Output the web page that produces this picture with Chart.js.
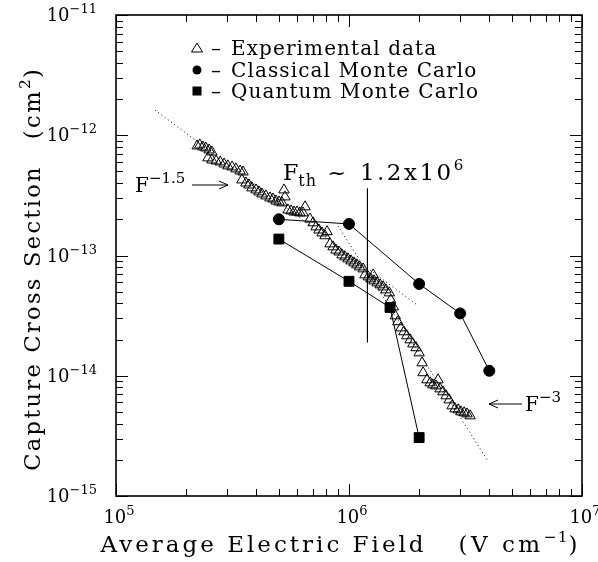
<!DOCTYPE html>
<html>
<head>
<meta charset="utf-8">
<script src="https://cdn.jsdelivr.net/npm/chart.js@4/dist/chart.umd.min.js"></script>
<style>
  html, body { margin: 0; padding: 0; background: #fff; }
  #plot { display: block; }
</style>
</head>
<body>
<canvas id="plot" width="598" height="562"></canvas>
<script>
// Axis decades and their exponent labels
const fieldTicks = [1e5, 1e6, 1e7];
const fieldTickExp = ['5', '6', '7'];
const sigmaTicks = [1e-15, 1e-14, 1e-13, 1e-12, 1e-11];
const sigmaTickExp = ['\u221215', '\u221214', '\u221213', '\u221212', '\u221211'];

// Measured capture cross sections (V/cm, cm^2)
const expField = [
  2.23e5, 2.29e5, 2.36e5, 2.43e5, 2.51e5, 2.58e5, 2.48e5, 2.58e5, 2.69e5, 2.80e5,
  2.91e5, 3.02e5, 3.15e5, 3.27e5, 3.41e5, 3.51e5, 3.47e5, 3.61e5, 3.72e5, 3.83e5,
  3.99e5, 4.11e5, 4.23e5, 4.40e5, 4.58e5, 4.72e5, 4.86e5, 5.01e5, 5.16e5, 5.26e5,
  5.31e5, 5.47e5, 5.64e5, 5.81e5, 5.98e5, 6.16e5, 6.35e5, 6.48e5, 6.80e5, 7.01e5,
  7.22e5, 7.43e5, 7.66e5, 7.89e5, 8.05e5, 8.29e5, 8.54e5, 8.79e5, 9.06e5, 9.33e5,
  9.61e5, 9.90e5, 1.02e6, 1.05e6, 1.08e6, 1.11e6, 1.15e6, 1.17e6, 1.21e6, 1.24e6,
  1.27e6, 1.28e6, 1.32e6, 1.36e6, 1.40e6, 1.44e6, 1.49e6, 1.51e6, 1.55e6, 1.58e6,
  1.62e6, 1.67e6, 1.72e6, 1.77e6, 1.83e6, 1.88e6, 1.94e6, 2.00e6, 2.06e6, 2.08e6,
  2.16e6, 2.23e6, 2.29e6, 2.36e6, 2.41e6, 2.46e6, 2.53e6, 2.61e6, 2.69e6, 2.77e6,
  2.85e6, 2.94e6, 3.02e6, 3.12e6, 3.21e6, 3.31e6
];
const expSigma = [
  8.15e-13, 8.31e-13, 7.99e-13, 7.84e-13, 7.55e-13, 7.26e-13, 6.48e-13, 6.23e-13, 6.11e-13, 6.00e-13,
  5.77e-13, 5.56e-13, 5.45e-13, 5.25e-13, 5.05e-13, 4.95e-13, 4.25e-13, 4.01e-13, 3.86e-13, 3.65e-13,
  3.51e-13, 3.38e-13, 3.25e-13, 3.13e-13, 3.01e-13, 2.95e-13, 2.84e-13, 2.79e-13, 2.74e-13, 3.51e-13,
  3.07e-13, 2.39e-13, 2.35e-13, 2.30e-13, 2.30e-13, 2.26e-13, 2.26e-13, 2.54e-13, 2.01e-13, 1.87e-13,
  1.73e-13, 1.63e-13, 1.54e-13, 1.46e-13, 1.58e-13, 1.25e-13, 1.18e-13, 1.11e-13, 1.07e-13, 1.01e-13,
  9.74e-14, 9.37e-14, 9.02e-14, 8.68e-14, 8.36e-14, 8.04e-14, 7.74e-14, 6.90e-14, 6.64e-14, 6.39e-14,
  6.90e-14, 6.15e-14, 5.92e-14, 5.70e-14, 5.48e-14, 5.18e-14, 4.89e-14, 4.27e-14, 3.74e-14, 3.15e-14,
  2.81e-14, 2.50e-14, 2.32e-14, 2.15e-14, 1.99e-14, 1.84e-14, 1.71e-14, 1.55e-14, 1.28e-14, 1.06e-14,
  9.25e-15, 8.73e-15, 8.40e-15, 8.24e-15, 9.25e-15, 7.78e-15, 7.35e-15, 6.81e-15, 6.30e-15, 5.62e-15,
  5.31e-15, 5.21e-15, 5.01e-15, 4.92e-15, 4.82e-15, 4.64e-15
];

// Monte Carlo results
const classicalField = [5e5, 1e6, 2e6, 3e6, 4e6];
const classicalSigma = [2.0e-13, 1.83e-13, 5.8e-14, 3.3e-14, 1.1e-14];
const quantumField = [5e5, 1e6, 1.5e6, 2e6];
const quantumSigma = [1.37e-13, 6.1e-14, 3.7e-14, 3.06e-15];

// Power-law guide lines (F^-1.5 below threshold, F^-3 above)
const lowFitField = [1.47e5, 1.96e6];
const lowFitSigma = [1.62e-12, 3.88e-14];
const highFitField = [8.97e5, 3.96e6];
const highFitSigma = [1.76e-13, 1.94e-15];

// Threshold field marker
const thresholdField = [1.2e6, 1.2e6];
const thresholdSigma = [3.6e-13, 1.9e-14];

const legendText = ['Experimental data', 'Classical Monte Carlo', 'Quantum Monte Carlo'];

const pts = (xs, ys) => xs.map((x, i) => ({ x, y: ys[i] }));

const SERIF = '"DejaVu Serif", "Liberation Serif", serif';

function setFont(ctx, size, ls) {
  ctx.font = size + 'px ' + SERIF;
  if ('letterSpacing' in ctx) ctx.letterSpacing = (ls || 0) + 'px';
}
function partWidth(ctx, p) {
  if (p.gap) return p.gap;
  setFont(ctx, p.size, p.ls);
  return ctx.measureText(p.text).width;
}
function drawRich(ctx, parts, x, y, align) {
  const w = parts.reduce((s, p) => s + partWidth(ctx, p), 0);
  let cx = align === 'center' ? x - w / 2 : align === 'right' ? x - w : x;
  ctx.textAlign = 'left';
  ctx.textBaseline = 'alphabetic';
  for (const p of parts) {
    const pw = partWidth(ctx, p);
    if (!p.gap) ctx.fillText(p.text, cx, y + (p.dy || 0));
    cx += pw;
  }
}
function arrow(ctx, x1, y, x2) {
  const dir = Math.sign(x2 - x1);
  ctx.beginPath();
  ctx.moveTo(x1, y); ctx.lineTo(x2, y);
  ctx.moveTo(x2 - dir * 9, y - 4); ctx.lineTo(x2, y); ctx.lineTo(x2 - dir * 9, y + 4);
  ctx.stroke();
}

const framePlugin = {
  id: 'frame',
  afterDraw(chart) {
    const { ctx, chartArea: a, scales: { x, y } } = chart;
    ctx.save();
    ctx.strokeStyle = '#000';
    ctx.fillStyle = '#000';

    // box
    ctx.lineWidth = 1.6;
    ctx.strokeRect(a.left, a.top, a.right - a.left, a.bottom - a.top);

    // inward ticks on all four sides
    ctx.lineWidth = 1;
    ctx.beginPath();
    for (let d = 5; d <= 7; d++) {
      for (let m = 1; m <= 9; m++) {
        if (d === 7 && m > 1) break;
        const px = Math.round(x.getPixelForValue(m * Math.pow(10, d))) + 0.5;
        const len = m === 1 ? 12 : 7;
        ctx.moveTo(px, a.bottom); ctx.lineTo(px, a.bottom - len);
        ctx.moveTo(px, a.top); ctx.lineTo(px, a.top + len);
      }
    }
    for (let d = -15; d <= -11; d++) {
      for (let m = 1; m <= 9; m++) {
        if (d === -11 && m > 1) break;
        const py = Math.round(y.getPixelForValue(m * Math.pow(10, d))) + 0.5;
        const len = m === 1 ? 12 : 7;
        ctx.moveTo(a.left, py); ctx.lineTo(a.left + len, py);
        ctx.moveTo(a.right, py); ctx.lineTo(a.right - len, py);
      }
    }
    ctx.stroke();

    // tick labels
    fieldTicks.forEach((v, i) => {
      const px = x.getPixelForValue(v);
      drawRich(ctx, [
        { text: '10', size: 18 },
        { text: fieldTickExp[i], size: 13, dy: -8 }
      ], px + 3, a.bottom + 27, 'center');
    });
    sigmaTicks.forEach((v, i) => {
      const py = y.getPixelForValue(v);
      drawRich(ctx, [
        { text: '10', size: 18 },
        { text: sigmaTickExp[i], size: 13, dy: -8 }
      ], a.left - 19, py + 6, 'right');
    });

    // axis titles
    drawRich(ctx, [
      { text: 'Average Electric Field', size: 23, ls: 3 },
      { gap: 32 },
      { text: '(V cm', size: 23, ls: 3.5 },
      { text: '\u22121', size: 15.5, dy: -10, ls: 1 },
      { text: ')', size: 23 }
    ], 339, 552, 'center');

    ctx.save();
    ctx.translate(40, 270);
    ctx.rotate(-Math.PI / 2);
    drawRich(ctx, [
      { text: 'Capture Cross Section', size: 22.5, ls: 2.3 },
      { gap: 26 },
      { text: '(cm', size: 22.5, ls: 2.5 },
      { text: '2', size: 15.5, dy: -10, ls: 1 },
      { text: ')', size: 22.5 }
    ], 0, 0, 'center');
    ctx.restore();

    // legend
    const lx = 197, rows = [48, 70, 91];
    ctx.lineWidth = 1;
    ctx.beginPath();
    ctx.moveTo(lx, rows[0] - 5); ctx.lineTo(lx + 5.5, rows[0] + 4); ctx.lineTo(lx - 5.5, rows[0] + 4); ctx.closePath();
    ctx.stroke();
    ctx.beginPath(); ctx.arc(lx, rows[1], 4.5, 0, Math.PI * 2); ctx.fill();
    ctx.fillRect(lx - 4.5, rows[2] - 4.5, 9, 9);
    legendText.forEach((t, i) => {
      drawRich(ctx, [{ text: '\u2013', size: 20 }], lx + 14, rows[i] + 7, 'left');
      drawRich(ctx, [{ text: t, size: 20, ls: 1.1 }], lx + 34, rows[i] + 7, 'left');
    });

    // annotations
    drawRich(ctx, [
      { text: 'F', size: 20 },
      { text: '\u22121.5', size: 15, dy: -9 }
    ], 135, 192, 'left');
    arrow(ctx, 192, 185, 228);

    drawRich(ctx, [
      { text: 'F', size: 22 },
      { text: 'th', size: 16, dy: 6, ls: 1 },
      { text: ' ~ ', size: 23, ls: 3 },
      { text: '1.2x10', size: 23, ls: 2.5 },
      { text: '6', size: 15, dy: -10 }
    ], 283, 180, 'left');

    drawRich(ctx, [
      { text: 'F', size: 20 },
      { text: '\u22123', size: 15, dy: -9 }
    ], 525, 411, 'left');
    arrow(ctx, 522, 404, 489);

    ctx.restore();
  }
};

new Chart(document.getElementById('plot'), {
  type: 'scatter',
  data: {
    datasets: [
      {
        data: pts(lowFitField, lowFitSigma), showLine: true, pointRadius: 0,
        borderColor: '#000', borderWidth: 1, borderDash: [1, 3]
      },
      {
        data: pts(highFitField, highFitSigma), showLine: true, pointRadius: 0,
        borderColor: '#000', borderWidth: 1, borderDash: [1, 3]
      },
      {
        data: pts(thresholdField, thresholdSigma), showLine: true, pointRadius: 0,
        borderColor: '#000', borderWidth: 1
      },
      {
        label: legendText[0],
        data: pts(expField, expSigma), showLine: false,
        pointStyle: 'triangle', pointRadius: 6, borderWidth: 1,
        borderColor: '#000', backgroundColor: 'rgba(0,0,0,0)'
      },
      {
        label: legendText[1],
        data: pts(classicalField, classicalSigma), showLine: true,
        pointStyle: 'circle', pointRadius: 5.5, borderWidth: 1,
        borderColor: '#000', backgroundColor: '#000'
      },
      {
        label: legendText[2],
        data: pts(quantumField, quantumSigma), showLine: true,
        pointStyle: 'rect', pointRadius: 7, borderWidth: 1,
        borderColor: '#000', backgroundColor: '#000'
      }
    ]
  },
  options: {
    responsive: false,
    animation: false,
    devicePixelRatio: 1,
    layout: { padding: { left: 116, right: 16, top: 15, bottom: 66 } },
    plugins: { legend: { display: false }, tooltip: { enabled: false } },
    scales: {
      x: { type: 'logarithmic', min: 1e5, max: 1e7, display: false },
      y: { type: 'logarithmic', min: 1e-15, max: 1e-11, display: false }
    }
  },
  plugins: [framePlugin]
});
</script>
</body>
</html>
